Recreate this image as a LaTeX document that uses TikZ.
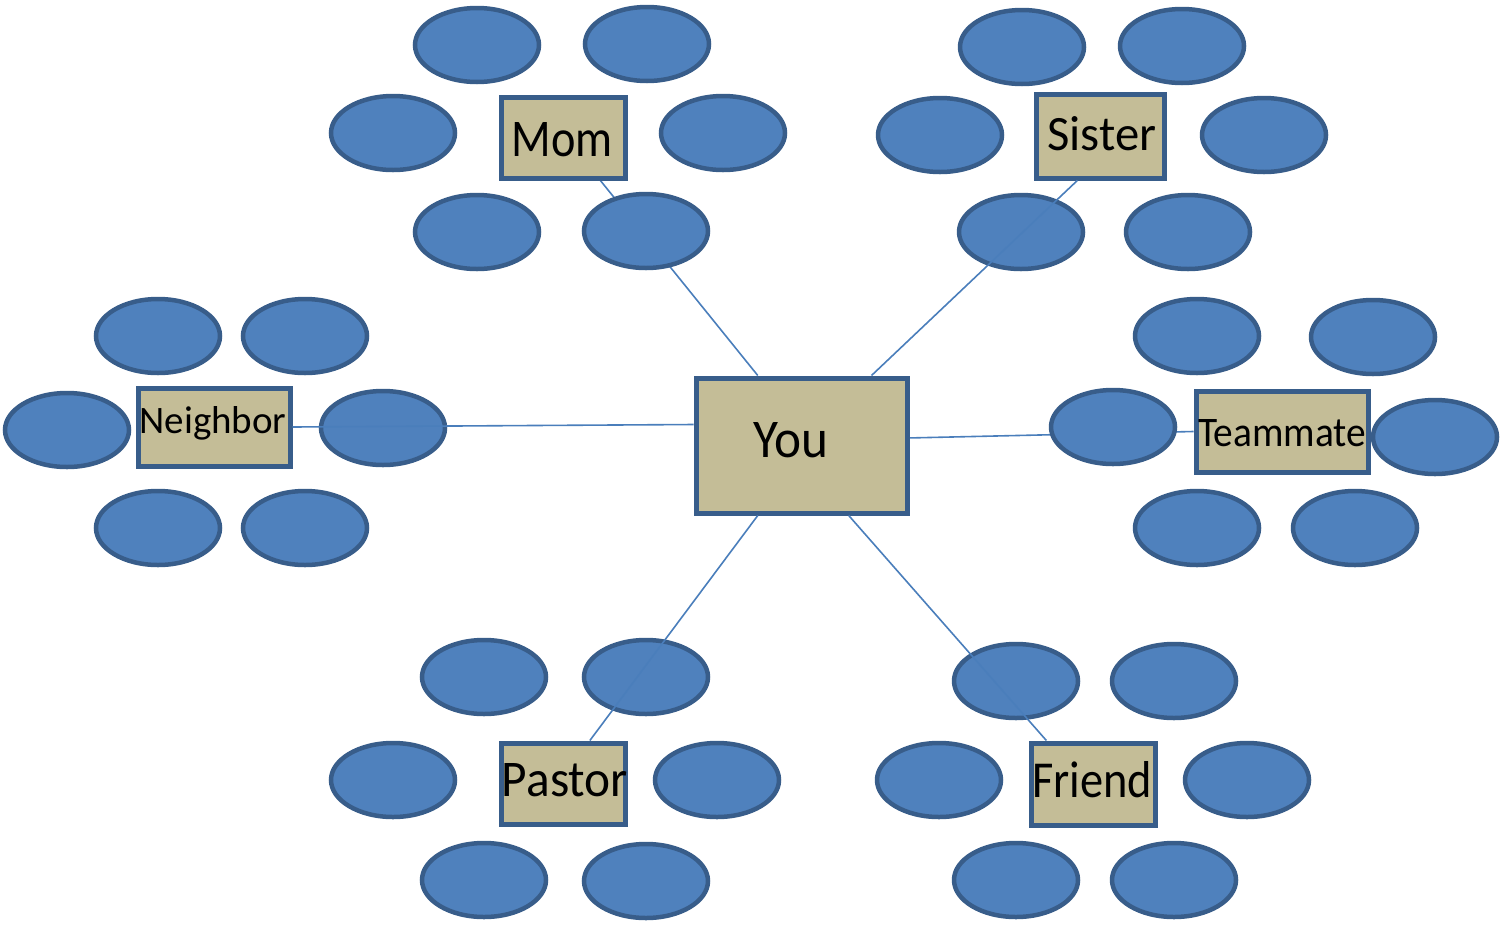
\documentclass[tikz,border=0pt]{standalone}
\usepackage{fontspec}
\setmainfont{Carlito}
\usetikzlibrary{shapes.geometric}
\definecolor{ovfill}{HTML}{4F81BD}
\definecolor{ovline}{HTML}{385D8A}
\definecolor{boxfill}{HTML}{C4BD97}
\definecolor{conn}{HTML}{4A7EBB}
\pgfdeclarelayer{bg}
\pgfsetlayers{bg,main}
\tikzset{
  oval/.style={ellipse, draw=ovline, fill=ovfill, line width=4.5pt, minimum width=124pt, minimum height=74pt, inner sep=0pt},
  rbox/.style={rectangle, draw=ovline, fill=boxfill, line width=5pt, inner sep=0pt},
  link/.style={draw=conn, line width=1.6pt},
  lbl/.style={inner sep=0pt, anchor=base, text=black}
}
\begin{document}
\begin{tikzpicture}[x=1pt,y=-1pt]
\useasboundingbox (0,0) rectangle (1502,924);
% boxes
\node[rbox, minimum width=211pt, minimum height=135pt] (you) at (801.5,445.5) {};
\node[rbox, minimum width=124pt, minimum height=81pt] (mom) at (563,137.5) {};
\node[rbox, minimum width=128pt, minimum height=84pt] (sister) at (1100,136) {};
\node[rbox, minimum width=152pt, minimum height=78pt] (neighbor) at (214,427) {};
\node[rbox, minimum width=172pt, minimum height=81pt] (teammate) at (1282,431.5) {};
\node[rbox, minimum width=124pt, minimum height=81pt] (pastor) at (563,783.5) {};
\node[rbox, minimum width=124pt, minimum height=82pt] (friend) at (1093,784) {};
% connectors under ovals
\begin{pgfonlayer}{bg}
\draw[link] (mom.-49) -- (you.122);
\draw[link] (you.4) -- (teammate.west);
\end{pgfonlayer}
% ovals: Mom
\node[oval] (m1) at (477,45) {};
\node[oval] (m2) at (647,44) {};
\node[oval] (m3) at (393,133) {};
\node[oval] (m4) at (723,133) {};
\node[oval] (m5) at (477,232) {};
\node[oval] (m6) at (646,231) {};
% Sister
\node[oval] (s1) at (1022,47) {};
\node[oval] (s2) at (1182,46) {};
\node[oval] (s3) at (940,135) {};
\node[oval] (s4) at (1264,135) {};
\node[oval] (s5) at (1021,232) {};
\node[oval] (s6) at (1188,232) {};
% Neighbor
\node[oval] (n1) at (158,336) {};
\node[oval] (n2) at (305,336) {};
\node[oval] (n3) at (67,430) {};
\node[oval] (n4) at (383,428) {};
\node[oval] (n5) at (158,528) {};
\node[oval] (n6) at (305,528) {};
% Teammate
\node[oval] (t1) at (1197,336) {};
\node[oval] (t2) at (1373,337) {};
\node[oval] (t3) at (1113,427) {};
\node[oval] (t4) at (1435,437) {};
\node[oval] (t5) at (1197,528) {};
\node[oval] (t6) at (1355,528) {};
% Pastor
\node[oval] (p1) at (484,677) {};
\node[oval] (p2) at (646,677) {};
\node[oval] (p3) at (393,780) {};
\node[oval] (p4) at (717,780) {};
\node[oval] (p5) at (484,880) {};
\node[oval] (p6) at (646,881) {};
% Friend
\node[oval] (f1) at (1016,681) {};
\node[oval] (f2) at (1174,681) {};
\node[oval] (f3) at (939,780) {};
\node[oval] (f4) at (1247,780) {};
\node[oval] (f5) at (1016,880) {};
\node[oval] (f6) at (1174,880) {};
% connectors over ovals
\draw[link] (sister.243.4) -- (you.45.4);
\draw[link] (neighbor.east) -- (you.169.5);
\draw[link] (you.238) -- (pastor.58.5);
\draw[link] (you.304.9) -- (friend.137);
% labels
\node[lbl] (lyou) at (791,457) {\resizebox{75pt}{35pt}{You}};
\node[lbl] (lmom) at (562,156) {\resizebox{101pt}{34pt}{Mom}};
\node[lbl] (lsister) at (1102,150) {\resizebox{109pt}{34pt}{Sister}};
\node[lbl] (lneighbor) at (213,433) {\resizebox{147pt}{27pt}{Neighbor}};
\node[lbl] (lteammate) at (1282,446) {\resizebox{168pt}{27pt}{Teammate}};
\node[lbl] (lpastor) at (565,796) {\resizebox{126pt}{33pt}{Pastor}};
\node[lbl] (lfriend) at (1092,797) {\resizebox{120pt}{36pt}{Friend}};
\end{tikzpicture}
\end{document}
